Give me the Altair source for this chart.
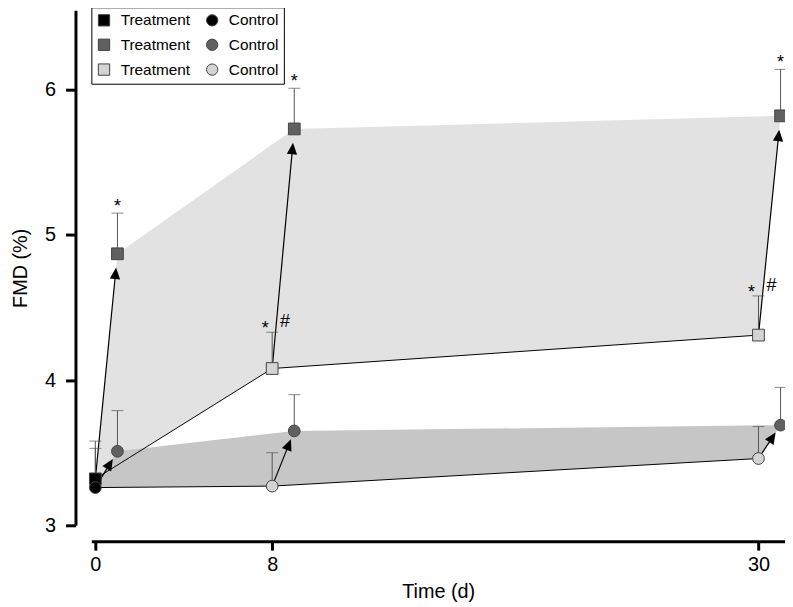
import math
import altair as alt
import pandas as pd

# ---------------- data ----------------
day_base = 0
day_pre = [8, 30]          # light grey (before)
day_post = [1, 9, 31]      # dark grey (after)

trt_base, trt_base_se = 3.32, 0.26
trt_post = [4.87, 5.73, 5.82]
trt_post_se = [0.28, 0.28, 0.32]
trt_pre = [4.08, 4.31]
trt_pre_se = [0.25, 0.27]

ctl_base, ctl_base_se = 3.26, 0.27
ctl_post = [3.51, 3.65, 3.69]
ctl_post_se = [0.28, 0.25, 0.26]
ctl_pre = [3.27, 3.46]
ctl_pre_se = [0.23, 0.22]

# legend entries are laid out column by column
legend_keys = ["T0", "T1", "T2", "C0", "C1", "C2"]
legend_fill = ["#000000", "#606060", "#d4d4d4", "#000000", "#606060", "#d4d4d4"]
legend_shape = ["square", "square", "square", "circle", "circle", "circle"]

x_ticks = [0, 8, 30]
y_ticks = [3, 4, 5, 6]

FONT = "Liberation Sans"
W, H = 699, 519
XDOM = [-0.18, 31.2]
YDOM = [3.0, 6.547]

# ---------------- tables ----------------
def rows(group, base, base_se, post, post_se, pre, pre_se):
    out = [dict(t=day_base, v=base, cap=base + base_se, key=group + "0")]
    out += [dict(t=d, v=v, cap=v + s, key=group + "1") for d, v, s in zip(day_post, post, post_se)]
    out += [dict(t=d, v=v, cap=v + s, key=group + "2") for d, v, s in zip(day_pre, pre, pre_se)]
    return out

pts = pd.DataFrame(
    rows("T", trt_base, trt_base_se, trt_post, trt_post_se, trt_pre, trt_pre_se)
    + rows("C", ctl_base, ctl_base_se, ctl_post, ctl_post_se, ctl_pre, ctl_pre_se)
)

def polygon(base, post, pre):
    seq = [(day_base, base)] + list(zip(day_post, post)) + list(zip(day_pre, pre))[::-1]
    return pd.DataFrame([dict(t=t, v=v, o=i) for i, (t, v) in enumerate(seq)])

poly_t = polygon(trt_base, trt_post, trt_pre)
poly_c = polygon(ctl_base, ctl_post, ctl_pre)

traj = pd.DataFrame(
    [dict(t=t, v=v, g="T") for t, v in [(day_base, trt_base)] + list(zip(day_pre, trt_pre))]
    + [dict(t=t, v=v, g="C") for t, v in [(day_base, ctl_base)] + list(zip(day_pre, ctl_pre))]
)

sx = W / (XDOM[1] - XDOM[0])
sy = H / (YDOM[1] - YDOM[0])

def arrow(t1, v1, t2, v2, back):
    dx = (t2 - t1) * sx
    dy = (v2 - v1) * sy
    L = math.hypot(dx, dy)
    ux, uy = dx / L, dy / L
    th = t2 - ux * back / sx
    vh = v2 - uy * back / sy
    ang = math.degrees(math.atan2(ux, uy))
    return dict(t1=t1, v1=v1, t2=th, v2=vh, ang=ang)

arr = []
srcT = [(day_base, trt_base)] + list(zip(day_pre, trt_pre))
srcC = [(day_base, ctl_base)] + list(zip(day_pre, ctl_pre))
for (ts, vs), td, vd in zip(srcT, day_post, trt_post):
    arr.append(arrow(ts, vs, td, vd, 22))
for (ts, vs), td, vd in zip(srcC, day_post, ctl_post):
    arr.append(arrow(ts, vs, td, vd, 17))
arrows = pd.DataFrame(arr)

stars_post = pts[pts.key == "T1"]
marks_pre = pts[pts.key == "T2"]

# ---------------- encodings ----------------
xscale = alt.Scale(domain=XDOM, nice=False, zero=False)
yscale = alt.Scale(domain=YDOM, nice=False, zero=False)
xaxis = alt.Axis(values=x_ticks, offset=16, domainWidth=3, domainColor="black",
                 tickWidth=3, tickSize=9, tickColor="black", labelFontSize=20,
                 labelFont=FONT, labelColor="black", labelPadding=5,
                 titleFont=FONT, titleFontSize=20, titleFontWeight="normal",
                 titleColor="black", titlePadding=7, grid=False)
yaxis = alt.Axis(values=y_ticks, offset=16, domainWidth=3, domainColor="black",
                 tickWidth=3, tickSize=10, tickColor="black", labelFontSize=20,
                 labelFont=FONT, labelColor="black", labelPadding=10,
                 titleFont=FONT, titleFontSize=20, titleFontWeight="normal",
                 titleColor="black", titlePadding=14, grid=False)

def X(f="t"):
    return alt.X(f"{f}:Q", scale=xscale, axis=xaxis, title="Time (d)")

def Y(f="v"):
    return alt.Y(f"{f}:Q", scale=yscale, axis=yaxis, title="FMD (%)")

poly_layer_t = alt.Chart(poly_t).mark_line(fill="#e2e2e2", strokeWidth=0).encode(
    x=X(), y=Y(), order="o:Q")
poly_layer_c = alt.Chart(poly_c).mark_line(fill="#c6c6c6", strokeWidth=0).encode(
    x=X(), y=Y(), order="o:Q")

traj_layer = alt.Chart(traj).mark_line(color="black", strokeWidth=1).encode(
    x=X(), y=Y(), detail="g:N")

arrow_lines = alt.Chart(arrows).mark_rule(color="black", strokeWidth=1.2).encode(
    x=X("t1"), y=Y("v1"), x2="t2:Q", y2="v2:Q")

arrow_heads = alt.Chart(arrows).mark_point(
    shape="M0,-1L0.65,0.45L-0.65,0.45Z", filled=True, color="black", size=256, opacity=1
).encode(x=X("t2"), y=Y("v2"), angle=alt.Angle("ang:Q", scale=None))

err_lines = alt.Chart(pts).mark_rule(color="#555555", strokeWidth=1).encode(
    x=X(), y=Y(), y2="cap:Q")
err_caps = alt.Chart(pts).mark_tick(color="#555555", orient="horizontal", size=12,
                                    thickness=1).encode(x=X(), y=Y("cap"))

fill_enc = alt.Fill("key:N", scale=alt.Scale(domain=legend_keys, range=legend_fill),
                    legend=alt.Legend(
                        title=None, orient="none", legendX=0, legendY=-3,
                        columns=2, columnPadding=14, rowPadding=8, padding=5,
                        strokeColor="black", fillColor="white",
                        labelFont=FONT, labelFontSize=15.5, labelColor="black",
                        labelOffset=9, symbolSize=130, symbolStrokeColor="#444444",
                        symbolStrokeWidth=1,
                        labelExpr="slice(datum.value,0,1) == 'T' ? 'Treatment' : 'Control'"))
shape_enc = alt.Shape("key:N", scale=alt.Scale(domain=legend_keys, range=legend_shape))

markers = alt.Chart(pts).mark_point(filled=True, stroke="#444444", strokeWidth=1,
                                    size=140, opacity=1).encode(
    x=X(), y=Y(), fill=fill_enc, shape=shape_enc)

star_post = alt.Chart(stars_post).mark_text(text="*", font=FONT, fontSize=18,
                                            baseline="alphabetic", dy=-1, color="black").encode(
    x=X(), y=Y("cap"))
star_pre = alt.Chart(marks_pre).mark_text(text="*", font=FONT, fontSize=18,
                                          baseline="alphabetic", dx=-7, dy=2, color="black").encode(
    x=X(), y=Y("cap"))
hash_pre = alt.Chart(marks_pre).mark_text(text="#", font=FONT, fontSize=18,
                                          baseline="alphabetic", dx=13, dy=-5, color="black").encode(
    x=X(), y=Y("cap"))

chart = alt.layer(
    poly_layer_t, poly_layer_c, traj_layer, arrow_lines, err_lines, err_caps,
    arrow_heads, markers, star_post, star_pre, hash_pre
).properties(
    width=W, height=H,
    autosize=alt.AutoSizeParams(type="none"),
    padding={"left": 84, "top": 0, "right": 0, "bottom": 80},
    background="white",
).configure_view(stroke=None)

chart.save("out.html", embed_options={"renderer": "svg", "actions": False})
